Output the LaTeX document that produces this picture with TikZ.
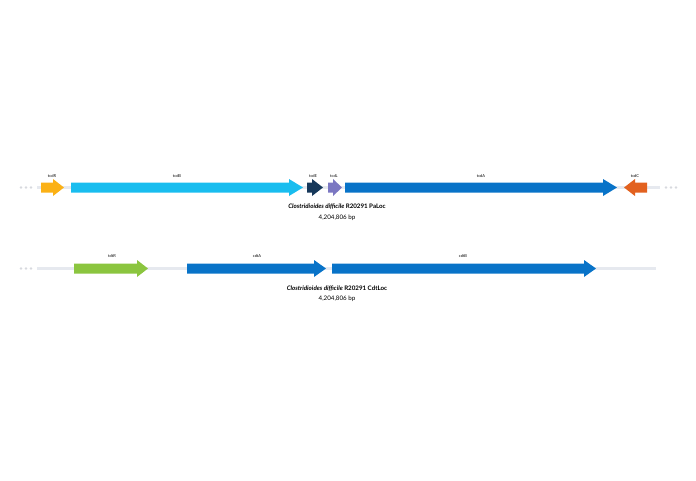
\documentclass[tikz,border=0pt]{standalone}
\usepackage{fontspec}
\setmainfont{Lato}
\usetikzlibrary{positioning}
\definecolor{amber}{HTML}{FBB116}
\definecolor{sky}{HTML}{19BDEF}
\definecolor{navy}{HTML}{16385A}
\definecolor{lilac}{HTML}{7B77C2}
\definecolor{deepblue}{HTML}{0873C8}
\definecolor{rust}{HTML}{E2611F}
\definecolor{leaf}{HTML}{8BC53F}
\definecolor{track}{HTML}{E6E9EF}
% gene arrow: x start, x end, head start, y, colour
\newcommand{\genearrow}[5]{\fill[#5] (#1,#4-5) -- (#3,#4-5) -- (#3,#4-8.5) -- (#2,#4) -- (#3,#4+8.5) -- (#3,#4+5) -- (#1,#4+5) -- cycle;}
\tikzset{every node/.style={inner sep=0pt},genelabel/.style={font=\fontsize{4}{4.5}\selectfont},locus/.style={font=\fontsize{6.2}{7}\selectfont\bfseries},length/.style={font=\fontsize{6.2}{7}\selectfont},backbone/.style={track,line width=3.5pt},dots/.style={track!85!gray}}

\begin{document}
\begin{tikzpicture}[x=1pt,y=-1pt]
\useasboundingbox (0,0) rectangle (696,480);
% PaLoc
\draw[backbone] (37,187.5)--(660,187.5);
\foreach \x in {21,26,31,666,671,676} \fill[dots] (\x,187.5) circle (1.3);
\genearrow{41}{64}{53}{187.5}{amber}
\genearrow{71}{303}{289}{187.5}{sky}
\genearrow{307}{323}{312}{187.5}{navy}
\genearrow{328}{342}{333}{187.5}{lilac}
\genearrow{345}{617}{603}{187.5}{deepblue}
\genearrow{647}{624}{635}{187.5}{rust}
\node[genelabel] (tcdR) at (52,176) {tcdR};
\node[genelabel] (tcdB) at (177,176) {tcdB};
\node[genelabel] (tcdE) at (313,176) {tcdE};
\node[genelabel] (tcdL) at (334,176) {tcdL};
\node[genelabel] (tcdA) at (481,176) {tcdA};
\node[genelabel] (tcdC) at (635,176) {tcdC};
\node[locus] (paloc) at (337,207) {\textit{Clostridioides difficile} R20291 PaLoc};
\node[length] (palocbp) [below=5pt of paloc] {4,204,806 bp};
% CdtLoc
\draw[backbone] (37,268.5)--(656,268.5);
\foreach \x in {21,26,31} \fill[dots] (\x,268.5) circle (1.3);
\genearrow{74}{148}{137}{268.5}{leaf}
\genearrow{187}{326}{314}{268.5}{deepblue}
\genearrow{332}{596}{584}{268.5}{deepblue}
\node[genelabel] (tdtR) at (112,256) {tdtR};
\node[genelabel] (cdtA) at (257,256) {cdtA};
\node[genelabel] (cdtB) at (463,256) {cdtB};
\node[locus] (cdtloc) at (337,289) {\textit{Clostridioides difficile} R20291 CdtLoc};
\node[length] (cdtlocbp) [below=4pt of cdtloc] {4,204,806 bp};
\end{tikzpicture}
\end{document}
